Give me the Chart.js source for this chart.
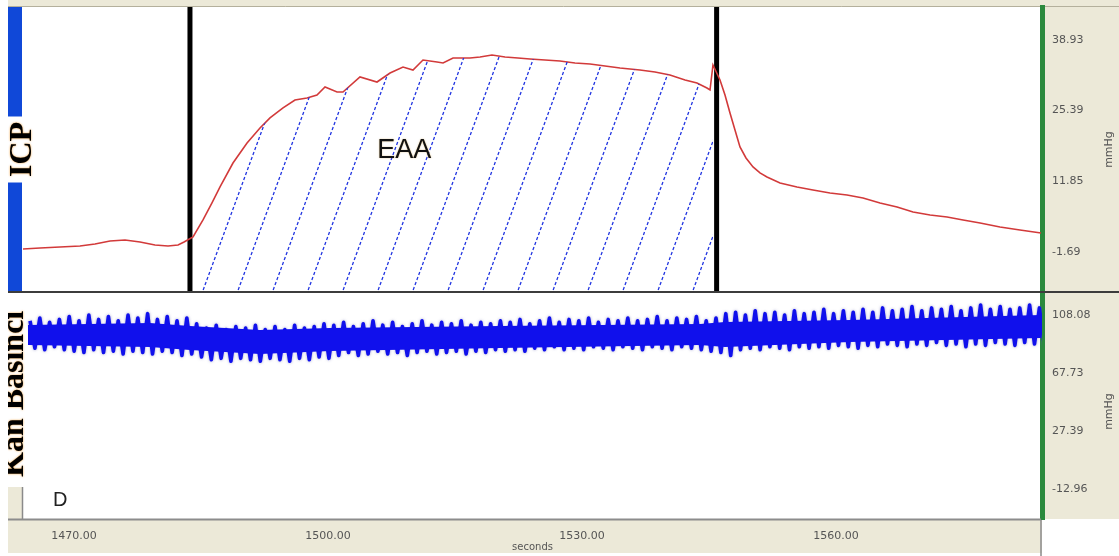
<!DOCTYPE html>
<html>
<head>
<meta charset="utf-8">
<script src="https://cdn.jsdelivr.net/npm/chart.js@4.4.1/dist/chart.umd.min.js"></script>
<style>
  html, body { margin: 0; padding: 0; background: #fff; }
</style>
</head>
<body>
<canvas id="trace" width="1119" height="556"></canvas>
<script>
// section--1 data

const xRange = [1463.98, 1584.33];
const xTicks = [1470, 1500, 1530, 1560];

const icpRange = [-9.42, 45.26];
const icpTicks = [-1.69, 11.85, 25.39, 38.93];
const bpRange = [-33.59, 124.05];
const bpTicks = [-12.96, 27.39, 67.73, 108.08];

// ICP trace (seconds, mmHg)
const icpTime = [
  1463.98, 1465.99, 1468.35, 1470.71, 1472.48, 1474.26, 1476.03, 1477.80, 1479.57, 1481.11, 1482.29, 1483.0,
  1484.06, 1485.24, 1486.30, 1487.25, 1488.78, 1490.44, 1491.97, 1493.15, 1494.69, 1496.10, 1497.52, 1498.70,
  1499.65, 1501.07, 1501.77, 1503.78, 1505.79, 1507.33, 1508.86, 1510.04, 1511.22, 1512.88, 1513.59, 1514.77, 1516.77,
  1517.96, 1519.37, 1520.91, 1522.44, 1523.86, 1525.63, 1527.40, 1529.17, 1530.95, 1532.72, 1534.49, 1536.85,
  1538.62, 1540.39, 1542.17, 1543.58, 1544.76, 1545.12, 1545.47,
  1546.30, 1546.89, 1547.48, 1548.07, 1548.66, 1549.37, 1550.20, 1551.02, 1551.85, 1553.39, 1555.39, 1557.28,
  1559.29, 1561.30, 1563.19, 1565.20, 1567.21, 1569.10, 1571.11, 1573.12, 1575.01, 1577.02, 1579.37, 1581.73, 1584.21
];
const icpValue = [
  -1.16, -0.97, -0.78, -0.59, -0.20, 0.37, 0.57, 0.18, -0.39, -0.59, -0.39, 0.18,
  1.14, 4.40, 7.66, 10.73, 15.33, 19.17, 22.05, 23.97, 25.89, 27.42, 27.80, 28.38,
  29.91, 28.95, 28.95, 31.83, 30.87, 32.60, 33.75, 33.17, 35.09, 34.71, 34.52, 35.48, 35.48,
  35.67, 36.05, 35.67, 35.48, 35.28, 35.09, 34.90, 34.52, 34.33, 33.94, 33.56, 33.17,
  32.79, 32.22, 31.26, 30.68, 29.72, 29.34, 34.13,
  31.26, 28.38, 24.93, 21.66, 18.40, 16.29, 14.57, 13.42, 12.65, 11.50, 10.73, 10.16,
  9.58, 9.20, 8.62, 7.66, 6.90, 5.93, 5.36, 4.98, 4.40, 3.83, 3.06, 2.48, 1.91
];

// start / end of the EAA period
const markerTimes = [1483.7, 1545.9];

// blood pressure, one systolic peak and one diastolic trough per beat
const bpStart = 1464.81;
const bpPeriod = 1.1574;
const bpSys = [
  104, 106, 103, 105,
  107, 104, 108, 105, 107, 104, 108, 106, 109, 105,
  107, 104, 106,
  102, 99, 101, 98, 100, 99, 101, 98, 100, 98, 101, 99, 100, 102,
  101, 103, 100, 102, 104, 101, 103, 100, 102, 104, 101, 103, 102, 104, 101, 103, 102, 104,
  103, 105, 102, 104, 106, 103, 105, 104, 106, 103, 105, 104, 106, 104, 105, 107, 104, 106, 105, 107, 104, 106,
  109,
  110, 108, 111, 109, 110, 108, 111, 109, 110, 112, 109, 111, 110,
  112, 110, 113, 111, 112, 114, 111, 113, 112, 114, 111, 113, 115, 112, 114, 112, 113, 115, 113
];
const bpDia = [
  85, 84, 86, 84,
  83, 82, 84, 82, 83, 81, 83, 82, 81, 83,
  82, 80, 81,
  79, 77, 78, 76, 78, 77, 76, 78, 77, 76, 78, 77, 79, 78,
  80, 82, 80, 81, 83, 81, 82, 80, 82, 83, 81, 82, 83, 81, 83, 82, 84, 83,
  84, 83, 85, 84, 86, 84, 85, 84, 86, 85, 84, 86, 85, 84, 86, 85, 84, 86, 85, 84, 83, 82,
  80,
  84, 85, 84, 86, 85, 84, 86, 85, 86, 85, 87, 86, 85,
  87, 86, 88, 87, 86, 88, 87, 89, 87, 88, 86, 88, 87, 89, 88, 87, 89, 88, 87
];

// solid core of the pressure band (where the beats overlap)
const coreTime = [1464.57, 1478.98, 1483.70, 1491.97, 1500.24, 1520.32, 1543.94, 1546.89, 1561.65, 1584.21];
const coreTop = [101.1, 102.5, 100.4, 97.7, 99.0, 100.4, 101.8, 103.2, 104.6, 108.1];
const coreBottom = [87.2, 85.9, 83.8, 81.0, 83.1, 85.2, 87.2, 85.9, 89.3, 92.1];

const channelNames = ["ICP", "Kan Basıncı"];
const unitText = "mmHg";
const eaaText = "EAA";
const eaaAt = [1509.0, 16.3];
const panelTag = "D";

// section--2 building the datasets

const icpPoints = icpTime.map((t, i) => ({ x: t, y: icpValue[i] }));
const eaaPoints = icpPoints.filter((p) => p.x >= markerTimes[0] && p.x <= markerTimes[1]);

const beatPoints = [];
bpSys.forEach((s, i) => {
  const t = bpStart + i * bpPeriod;
  beatPoints.push({ x: t, y: s });
  beatPoints.push({ x: t + bpPeriod / 2, y: bpDia[i] });
});
const coreTopPoints = coreTime.map((t, i) => ({ x: t, y: coreTop[i] }));
const coreBottomPoints = coreTime.map((t, i) => ({ x: t, y: coreBottom[i] }));

const markerSets = markerTimes.map((t) => ({
  data: [{ x: t, y: icpRange[0] }, { x: t, y: icpRange[1] }],
  yAxisID: "yIcp",
  borderColor: "#000",
  borderWidth: 5,
  pointRadius: 0,
  fill: false,
}));

// dashed diagonal hatching for the area under the curve
function makeHatch(ctx) {
  const w = 35, h = 95;
  const c = document.createElement("canvas");
  c.width = w;
  c.height = h;
  const g = c.getContext("2d");
  const step = Math.hypot(w, h) / 19;
  g.strokeStyle = "rgba(35,55,225,1)";
  g.lineWidth = 1.3;
  g.setLineDash([step * 0.6, step * 0.4]);
  [-w, 0, w].forEach((dx) => {
    g.beginPath();
    g.moveTo(dx - w, 2 * h);
    g.lineTo(dx + 2 * w, -h);
    g.stroke();
  });
  const p = ctx.createPattern(c, "repeat");
  p.setTransform(new DOMMatrix().translate(-5, 0));
  return p;
}

// section--3 panels, labels

const beige = "#ece9d8";
const labelFont = "DejaVu Sans";
const bpBlue = "rgb(16,16,236)";

const panelDeco = {
  id: "panelDeco",
  beforeDraw(chart) {
    const { ctx, chartArea: a, width, height } = chart;
    const top = chart.scales.yIcp;
    const bot = chart.scales.yBp;
    const midTop = (top.top + top.bottom) / 2;
    ctx.save();
    ctx.fillStyle = "#fff";
    ctx.fillRect(0, 0, width, height);
    ctx.fillStyle = beige;
    ctx.fillRect(8, 0, width - 8, a.top);
    ctx.fillRect(a.right, a.top, width - a.right, a.bottom - a.top);
    ctx.fillRect(8, a.bottom, a.right - 8, height - a.bottom - 3);
    ctx.fillRect(8, bot.top, a.left - 8, bot.bottom - bot.top);
    // blue channel bar, with a white gap under the ICP label
    ctx.fillStyle = "#1048d8";
    ctx.fillRect(8, top.top, a.left - 9, top.bottom - top.top);
    ctx.fillStyle = "#fff";
    ctx.fillRect(8, midTop - 33, a.left - 8, 66);
    ctx.fillRect(8, bot.top, a.left - 8, bot.bottom - bot.top - 32);
    // frame lines
    ctx.strokeStyle = "#b4b09c";
    ctx.lineWidth = 1;
    ctx.beginPath();
    ctx.moveTo(8, a.top - 0.5);
    ctx.lineTo(width, a.top - 0.5);
    ctx.stroke();
    ctx.strokeStyle = "#8a8a8a";
    ctx.lineWidth = 1.5;
    ctx.beginPath();
    ctx.moveTo(a.left - 0.5, bot.bottom - 32);
    ctx.lineTo(a.left - 0.5, a.bottom);
    ctx.moveTo(a.right - 1, a.bottom);
    ctx.lineTo(a.right - 1, height);
    ctx.stroke();
    ctx.restore();
  },
  beforeDatasetDraw(chart, args) {
    if (args.meta.yAxisID === "yBp") {
      chart.ctx.save();
      chart.ctx.shadowColor = "rgba(90,90,170,0.6)";
      chart.ctx.shadowBlur = 3;
    }
  },
  afterDatasetDraw(chart, args) {
    if (args.meta.yAxisID === "yBp") chart.ctx.restore();
  },
  afterDatasetsDraw(chart) {
    const { ctx, chartArea: a, width } = chart;
    const top = chart.scales.yIcp;
    const bot = chart.scales.yBp;
    const x = chart.scales.x;
    ctx.save();
    // separator between the channels and the time axis line
    ctx.strokeStyle = "#3c3c3c";
    ctx.lineWidth = 2;
    ctx.beginPath();
    ctx.moveTo(8, top.bottom);
    ctx.lineTo(width, top.bottom);
    ctx.stroke();
    ctx.strokeStyle = "#8c8c8c";
    ctx.beginPath();
    ctx.moveTo(8, a.bottom + 0.5);
    ctx.lineTo(a.right - 1, a.bottom + 0.5);
    ctx.stroke();

    // channel names, rotated, clipped at the left column
    ctx.save();
    ctx.beginPath();
    ctx.rect(8, 0, width, chart.height);
    ctx.clip();
    ctx.fillStyle = "#000";
    ctx.shadowColor = "rgba(235,140,20,0.9)";
    ctx.shadowBlur = 2;
    ctx.font = "bold 32px 'Liberation Serif'";
    ctx.save();
    ctx.translate(a.left + 8, (top.top + top.bottom) / 2);
    ctx.rotate(-Math.PI / 2);
    ctx.textAlign = "center";
    ctx.textBaseline = "alphabetic";
    ctx.fillText(channelNames[0], 0, 0);
    ctx.restore();
    ctx.save();
    ctx.translate(a.left, bot.bottom - 42);
    ctx.rotate(-Math.PI / 2);
    ctx.textAlign = "left";
    ctx.textBaseline = "alphabetic";
    ctx.fillText(channelNames[1], 0, 0);
    ctx.restore();
    // EAA label
    ctx.shadowColor = "rgba(200,150,60,0.7)";
    ctx.shadowBlur = 1.5;
    ctx.font = "27px 'Liberation Sans'";
    ctx.textAlign = "center";
    ctx.fillStyle = "#111";
    ctx.fillText(eaaText, x.getPixelForValue(eaaAt[0]), top.getPixelForValue(eaaAt[1]));
    ctx.restore();

    ctx.fillStyle = "#222";
    ctx.font = "20px 'Liberation Sans'";
    ctx.textAlign = "left";
    ctx.fillText(panelTag, a.left + 30, bot.bottom - 13);

    // unit text on both right-hand axes
    ctx.fillStyle = "#555";
    ctx.font = "11px '" + labelFont + "'";
    ctx.textAlign = "center";
    ctx.textBaseline = "middle";
    [top, bot].forEach((s) => {
      ctx.save();
      ctx.translate(width - 10, (s.top + s.bottom) / 2 + (s === bot ? 6 : 0));
      ctx.rotate(-Math.PI / 2);
      ctx.fillText(unitText, 0, 0);
      ctx.restore();
    });
    ctx.restore();
  },
};

function rightAxis(range, ticks, weight) {
  return {
    type: "linear",
    position: "right",
    stack: "channels",
    stackWeight: weight,
    min: range[0],
    max: range[1],
    afterBuildTicks: (s) => {
      s.ticks = ticks.map((v) => ({ value: v }));
    },
    afterFit: (s) => {
      s.width = 77;
      s.paddingTop = 0;
      s.paddingBottom = 0;
    },
    grid: { display: true, drawOnChartArea: false, drawTicks: false, color: "rgba(0,0,0,0)" },
    border: { display: true, color: "#2b8a3e", width: 5 },
    ticks: {
      autoSkip: false,
      padding: 10,
      color: "#555",
      font: { family: labelFont, size: 11 },
      callback: (v) => Number(v).toFixed(2),
    },
  };
}

const ctx = document.getElementById("trace").getContext("2d");
const traceChart = new Chart(ctx, {
  type: "line",
  data: {
    datasets: [
      {
        label: eaaText,
        data: eaaPoints,
        yAxisID: "yIcp",
        fill: "start",
        backgroundColor: makeHatch(ctx),
        borderWidth: 0,
        pointRadius: 0,
      },
      {
        label: channelNames[0],
        data: icpPoints,
        yAxisID: "yIcp",
        borderColor: "#d23a3a",
        borderWidth: 1.6,
        pointRadius: 0,
        fill: false,
      },
      ...markerSets,
      // solid middle of the pressure band
      {
        label: "core",
        data: coreTopPoints,
        yAxisID: "yBp",
        backgroundColor: bpBlue,
        borderWidth: 0,
        pointRadius: 0,
        fill: "+1",
      },
      {
        label: "coreBottom",
        data: coreBottomPoints,
        yAxisID: "yBp",
        borderWidth: 0,
        pointRadius: 0,
        fill: false,
      },
      {
        label: channelNames[1],
        data: beatPoints,
        yAxisID: "yBp",
        borderColor: bpBlue,
        borderWidth: 3.6,
        borderJoinStyle: "round",
        pointRadius: 0,
        fill: false,
      },
    ],
  },
  options: {
    responsive: false,
    animation: false,
    layout: { padding: { left: 23, top: 7 } },
    plugins: { legend: { display: false }, tooltip: { enabled: false } },
    scales: {
      x: {
        type: "linear",
        position: "bottom",
        min: xRange[0],
        max: xRange[1],
        afterBuildTicks: (s) => {
          s.ticks = xTicks.map((v) => ({ value: v }));
        },
        afterFit: (s) => {
          s.height = 37;
          s.paddingLeft = 0;
          s.paddingRight = 0;
        },
        grid: { display: false },
        border: { display: false },
        ticks: {
          autoSkip: false,
          maxRotation: 0,
          padding: 3,
          color: "#555",
          font: { family: labelFont, size: 11 },
          callback: (v) => Number(v).toFixed(2),
        },
        title: {
          display: true,
          text: "seconds",
          color: "#555",
          font: { family: labelFont, size: 10 },
          padding: { top: 0, bottom: 3 },
        },
      },
      yIcp: rightAxis(icpRange, icpTicks, 285),
      yBp: rightAxis(bpRange, bpTicks, 227),
    },
  },
  plugins: [panelDeco],
});
</script>
</body>
</html>
